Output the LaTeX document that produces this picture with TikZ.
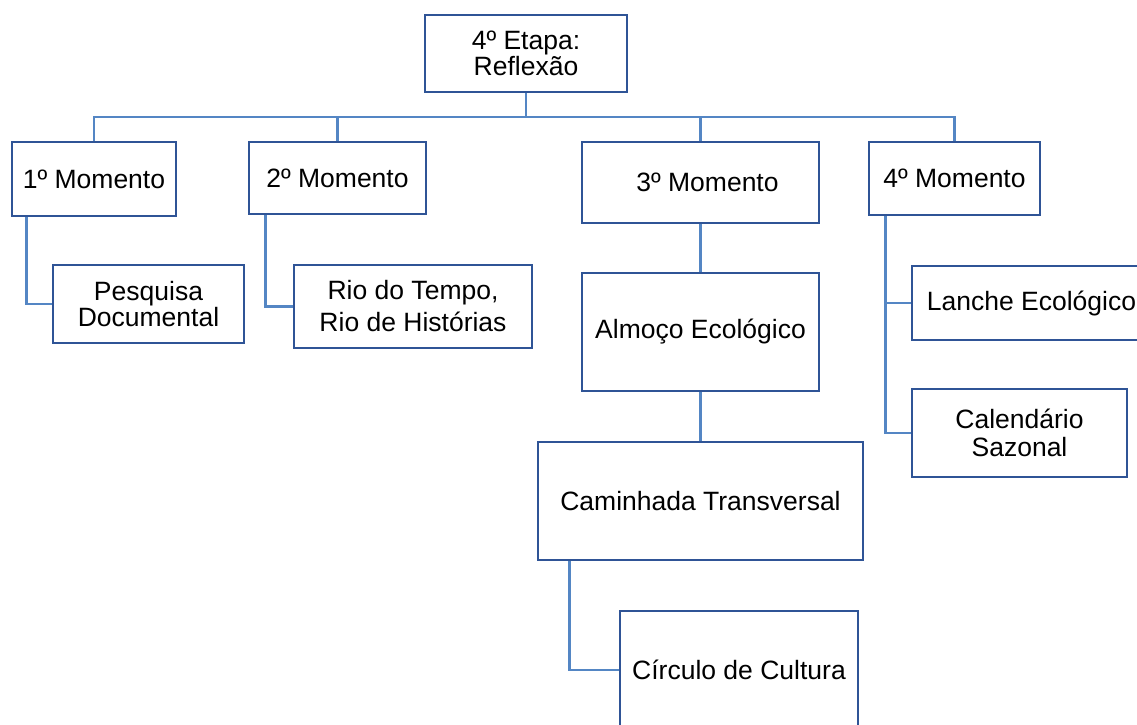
\documentclass[tikz,border=0pt]{standalone}
\usepackage{fontspec}
\setmainfont{Liberation Sans}
\usetikzlibrary{backgrounds}
\definecolor{boxblue}{RGB}{47,84,150}
\definecolor{linkblue}{RGB}{84,134,196}
\begin{document}
\begin{tikzpicture}[x=1pt,y=-1pt,
  box/.style={draw=boxblue, line width=2.8pt, fill=white, inner sep=0pt,
    align=center, font=\fontsize{26.5}{26}\selectfont},
  link/.style={draw=linkblue, line width=2.8pt},
  lbl/.style={align=center, font=\fontsize{26.5}{26}\selectfont}]
\useasboundingbox (0,0) rectangle (1137,724);
\clip (0,0) rectangle (1137,724);
\coordinate (bus) at (526,117);
\node[box, minimum width=202pt, minimum height=77pt] (top) at (526,53.5) {4º Etapa:\\Reflexão};
\node[box, minimum width=164pt, minimum height=74pt] (m1) at (94,179) {1º Momento};
\node[box, minimum width=177pt, minimum height=72pt] (m2) at (337.5,178) {2º Momento};
\node[box, minimum width=237pt, minimum height=81pt, label={[lbl, xshift=7pt]center:3º Momento}] (m3) at (700.5,182.5) {};
\node[box, minimum width=171pt, minimum height=73pt] (m4) at (954.5,178.5) {4º Momento};
\node[box, minimum width=191pt, minimum height=78pt] (pesq) at (148.5,304) {Pesquisa\\Documental};
\node[box, minimum width=238pt, minimum height=83pt] (rio) at (413,306.5) {Rio do Tempo,\\[6pt]Rio de Histórias};
\node[box, minimum width=237pt, minimum height=118pt] (alm) at (700.5,332) {Almoço Ecológico};
\node[box, minimum width=325pt, minimum height=118pt] (cam) at (700.5,501) {Caminhada Transversal};
\node[box, minimum width=238pt, minimum height=118pt] (circ) at (739,670) {Círculo de Cultura};
\node[box, minimum width=239pt, minimum height=74pt] (lan) at (1031.5,303) {Lanche Ecológico};
\node[box, minimum width=215pt, minimum height=88pt] (cal) at (1019.5,433) {Calendário\\[2pt]Sazonal};
\begin{scope}[on background layer]
\fill[white] (0,0) rectangle (1137,724);
\draw[link] (top.south) -- (top.south |- bus);
\draw[link] (m1.north) -- (m1.north |- bus) -- (m4.north |- bus) -- (m4.north);
\draw[link] (m2.north) -- (m2.north |- bus);
\draw[link] (m3.north) -- (m3.north |- bus);
\draw[link] ([xshift=16pt]m1.south west) |- (pesq.west);
\draw[link] ([xshift=18pt]m2.south west) |- (rio.west);
\draw[link] (m3.south) -- (alm.north);
\draw[link] (alm.south) -- (cam.north);
\draw[link] ([xshift=33pt]cam.south west) |- (circ.west);
\draw[link] ([xshift=18pt]m4.south west) |- (lan.west);
\draw[link] ([xshift=18pt]m4.south west) |- (cal.west);
\end{scope}
\end{tikzpicture}
\end{document}
